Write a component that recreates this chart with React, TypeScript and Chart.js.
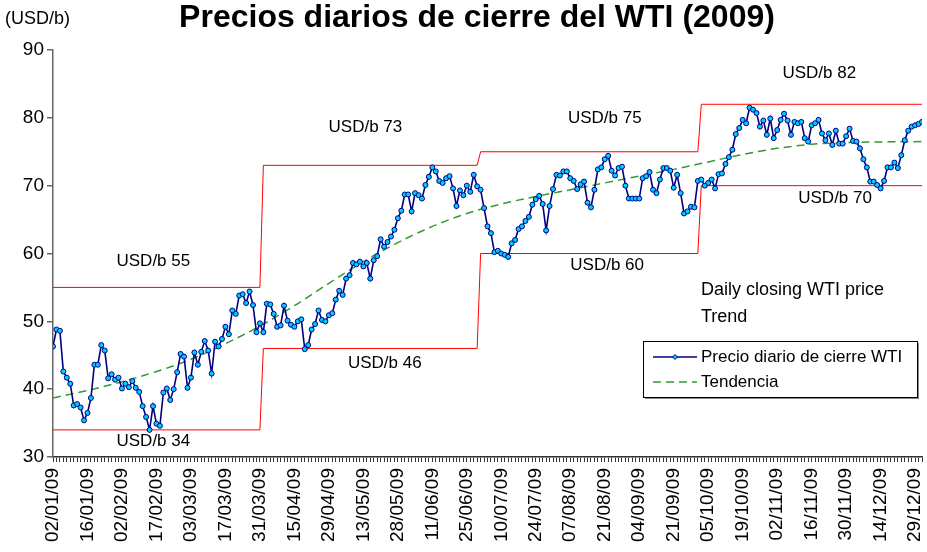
import React, { useEffect, useRef } from "react";
import { Chart, registerables } from "chart.js";

Chart.register(...registerables);

const FONT = "'Liberation Sans', Arial, Helvetica, sans-serif";

// Tick labels, one every 10 trading days
const tickLabels = [
  "02/01/09", "16/01/09", "02/02/09", "17/02/09", "03/03/09", "17/03/09", "31/03/09",
  "15/04/09", "29/04/09", "13/05/09", "28/05/09", "11/06/09", "25/06/09", "10/07/09",
  "24/07/09", "07/08/09", "21/08/09", "04/09/09", "21/09/09", "05/10/09", "19/10/09",
  "02/11/09", "16/11/09", "30/11/09", "14/12/09", "29/12/09",
];

// Daily WTI closing price (USD/b), trading days of 2009
const prices = [
  46.3, 48.8, 48.6, 42.6, 41.7, 40.8, 37.6, 37.8, 37.3, 35.4,
  36.5, 38.7, 43.6, 43.6, 46.5, 45.7, 41.6, 42.2, 41.4, 41.7,
  40.1, 40.8, 40.3, 41.2, 40.2, 39.6, 37.5, 35.9, 34.0, 37.5,
  34.9, 34.6, 39.5, 40.1, 38.4, 40.0, 42.5, 45.2, 44.8, 40.2,
  41.7, 45.4, 43.6, 45.5, 47.1, 45.7, 42.3, 47.0, 46.3, 47.4,
  49.2, 48.1, 51.6, 51.1, 53.8, 54.0, 52.7, 54.4, 52.4, 48.4,
  49.7, 48.4, 52.6, 52.5, 51.1, 49.2, 49.4, 52.3, 50.1, 49.5,
  49.2, 50.0, 50.3, 45.9, 46.5, 48.8, 49.6, 51.6, 50.2, 50.0,
  50.9, 51.2, 53.2, 54.5, 53.9, 56.3, 56.8, 58.6, 58.4, 58.8,
  58.1, 58.6, 56.3, 59.0, 59.6, 62.1, 61.0, 61.7, 62.5, 63.5,
  65.2, 66.3, 68.7, 68.7, 66.2, 68.9, 68.6, 68.1, 70.1, 71.3,
  72.7, 72.1, 70.7, 70.4, 71.1, 71.4, 69.6, 67.0, 69.3, 68.6,
  70.0, 69.1, 71.6, 69.9, 69.4, 66.7, 64.0, 63.0, 60.2, 60.4,
  60.0, 59.8, 59.5, 61.5, 62.0, 63.6, 64.0, 64.8, 65.4, 67.2,
  68.0, 68.5, 67.3, 63.4, 67.0, 69.5, 71.6, 71.5, 72.1, 72.1,
  71.1, 70.7, 69.5, 70.2, 70.6, 67.5, 66.8, 69.4, 72.4, 72.7,
  73.9, 74.4, 72.2, 71.5, 72.6, 72.8, 70.0, 68.1, 68.1, 68.1,
  68.1, 71.1, 71.4, 72.0, 69.4, 68.9, 70.9, 72.6, 72.6, 72.2,
  69.7, 71.6, 68.9, 65.9, 66.2, 66.9, 66.8, 70.7, 70.9, 70.0,
  70.4, 70.9, 69.6, 71.7, 71.8, 73.2, 74.2, 75.3, 77.6, 78.5,
  79.7, 79.2, 81.5, 81.2, 80.7, 78.7, 79.6, 77.5, 79.9, 77.0,
  78.2, 79.7, 80.6, 79.6, 77.5, 79.4, 79.2, 79.4, 77.0, 76.5,
  78.9, 79.2, 79.7, 77.7, 76.7, 77.7, 76.0, 78.1, 76.2, 76.2,
  77.3, 78.4, 76.6, 76.5, 75.5, 73.9, 72.7, 70.6, 70.6, 70.1,
  69.6, 70.7, 72.7, 72.7, 73.4, 72.6, 74.5, 76.7, 78.1, 78.7,
  78.9, 79.1, 79.4,
];

// Trend curve read at sample trading-day indices
const trendIdx = [0, 10, 20, 30, 40, 50, 60, 70, 80, 90, 100, 110, 120, 130, 140, 150, 160, 170, 180, 190, 200, 210, 220, 230, 240, 252];
const trendVal = [38.7, 39.8, 41.1, 42.6, 44.4, 46.7, 49.3, 52.3, 55.6, 58.8, 61.6, 64.0, 65.9, 67.3, 68.4, 69.4, 70.4, 71.4, 72.4, 73.5, 74.6, 75.5, 76.1, 76.35, 76.45, 76.5];

// Quarterly bands
const quarterStart = [0, 61, 124, 188];
const quarterEnd = [60, 123, 187, 252];
const quarterHigh = [55, 73, 75, 82];
const quarterLow = [34, 46, 60, 70];

const yMin = 30;
const yMax = 90;
const yStep = 10;

// Band labels placed in data coordinates (index, price)
const bandLabels = [
  { text: "USD/b 55", at: [29.1, 58.8] },
  { text: "USD/b 34", at: [29.1, 32.3] },
  { text: "USD/b 73", at: [90.6, 78.6] },
  { text: "USD/b 46", at: [96.2, 43.8] },
  { text: "USD/b 75", at: [160.0, 79.9] },
  { text: "USD/b 60", at: [160.7, 58.3] },
  { text: "USD/b 82", at: [222.2, 86.5] },
  { text: "USD/b 70", at: [226.8, 68.1] },
];

function stepPoints(levels: number[]) {
  const pts: { x: number; y: number }[] = [];
  levels.forEach((lv, q) => {
    pts.push({ x: quarterStart[q], y: lv });
    pts.push({ x: quarterEnd[q], y: lv });
  });
  return pts;
}

const overlayPlugin = {
  id: "overlay",
  afterDraw(chart: any) {
    const ctx = chart.ctx as CanvasRenderingContext2D;
    const xs = chart.scales.x;
    const ys = chart.scales.y;
    ctx.save();
    // Title
    ctx.fillStyle = "#000";
    ctx.textBaseline = "middle";
    ctx.textAlign = "center";
    ctx.font = `bold 32px ${FONT}`;
    ctx.fillText("Precios diarios de cierre del WTI (2009)", 477, 18);
    ctx.textAlign = "left";
    ctx.font = `18px ${FONT}`;
    ctx.fillText("(USD/b)", 5, 19);

    // Band labels
    ctx.textAlign = "center";
    ctx.font = `17px ${FONT}`;
    bandLabels.forEach((b) => {
      ctx.fillText(b.text, xs.getPixelForValue(b.at[0]), ys.getPixelForValue(b.at[1]));
    });

    // Free text
    ctx.textAlign = "left";
    ctx.font = `18px ${FONT}`;
    ctx.fillText("Daily closing WTI price", 701, 290);
    ctx.fillText("Trend", 701, 317);

    // Legend box
    const lx = 643, ly = 341, lw = 274, lh = 56;
    ctx.fillStyle = "#888";
    ctx.fillRect(lx + 2, ly + 2, lw, lh);
    ctx.fillStyle = "#fff";
    ctx.fillRect(lx, ly, lw, lh);
    ctx.strokeStyle = "#000";
    ctx.lineWidth = 1;
    ctx.strokeRect(lx + 0.5, ly + 0.5, lw, lh);

    ctx.strokeStyle = "#000080";
    ctx.lineWidth = 1.5;
    ctx.beginPath();
    ctx.moveTo(653, 357);
    ctx.lineTo(697, 357);
    ctx.stroke();
    ctx.fillStyle = "#00CCFF";
    ctx.lineWidth = 1;
    ctx.beginPath();
    ctx.moveTo(675, 354.5);
    ctx.lineTo(677.5, 357);
    ctx.lineTo(675, 359.5);
    ctx.lineTo(672.5, 357);
    ctx.closePath();
    ctx.fill();
    ctx.stroke();

    ctx.strokeStyle = "#339933";
    ctx.lineWidth = 1.5;
    ctx.setLineDash([8, 5]);
    ctx.beginPath();
    ctx.moveTo(653, 382);
    ctx.lineTo(697, 382);
    ctx.stroke();
    ctx.setLineDash([]);

    ctx.fillStyle = "#000";
    ctx.font = `17px ${FONT}`;
    ctx.fillText("Precio diario de cierre WTI", 701, 357);
    ctx.fillText("Tendencia", 701, 382);
    ctx.restore();
  },
};

export default function App() {
  const ref = useRef<HTMLCanvasElement | null>(null);

  useEffect(() => {
    document.body.style.margin = "0";
    const canvas = ref.current;
    if (!canvas) return;
    const chart = new Chart(canvas, {
      type: "line",
      data: {
        datasets: [
          {
            label: "Precio diario de cierre WTI",
            data: prices.map((v, i) => ({ x: i, y: v })),
            borderColor: "#000080",
            borderWidth: 1.6,
            pointRadius: 2.5,
            pointBackgroundColor: "#00CCFF",
            pointBorderColor: "#000080",
            pointBorderWidth: 1,
            tension: 0,
          },
          {
            label: "Tendencia",
            data: trendIdx.map((x, i) => ({ x, y: trendVal[i] })),
            borderColor: "#339933",
            borderWidth: 1.5,
            borderDash: [8, 5],
            pointRadius: 0,
            cubicInterpolationMode: "monotone",
          },
          {
            label: "Max",
            data: stepPoints(quarterHigh),
            borderColor: "#FF0000",
            borderWidth: 1,
            pointRadius: 0,
          },
          {
            label: "Min",
            data: stepPoints(quarterLow),
            borderColor: "#FF0000",
            borderWidth: 1,
            pointRadius: 0,
          },
        ],
      },
      options: {
        animation: false,
        responsive: false,
        maintainAspectRatio: false,
        layout: { padding: { top: 50, right: 1, left: 0, bottom: 0 } },
        plugins: {
          legend: { display: false },
          tooltip: { enabled: false },
          title: { display: false },
        },
        scales: {
          x: {
            type: "linear",
            min: 0,
            max: prices.length - 1,
            ticks: {
              stepSize: 1,
              autoSkip: false,
              maxRotation: 90,
              minRotation: 90,
              padding: 6,
              color: "#000",
              font: { size: 19, family: FONT },
              callback: (v: any) => {
                const n = Number(v);
                return n % 10 === 0 && tickLabels[n / 10] ? tickLabels[n / 10] : "";
              },
            },
            grid: { drawOnChartArea: false, drawTicks: true, tickLength: 5, color: "#333", lineWidth: 1 },
            border: { color: "#333", width: 1.5 },
            afterFit: (s: any) => {
              s.height = 95;
              s.paddingLeft = 0;
              s.paddingRight = 0;
            },
          },
          y: {
            min: yMin,
            max: yMax,
            ticks: {
              stepSize: yStep,
              padding: 3,
              color: "#000",
              font: { size: 19, family: FONT },
            },
            grid: { drawOnChartArea: false, drawTicks: true, tickLength: 6, color: "#666", lineWidth: 1.5 },
            border: { color: "#666", width: 1.5 },
            afterFit: (s: any) => {
              s.width = 53;
              s.paddingTop = 0;
              s.paddingBottom = 0;
            },
          },
        },
      },
      plugins: [overlayPlugin],
    } as any);
    return () => chart.destroy();
  }, []);

  return (
    <div style={{ width: 927, height: 552, background: "#fff" }}>
      <canvas ref={ref} width={927} height={552} style={{ display: "block" }} />
    </div>
  );
}
